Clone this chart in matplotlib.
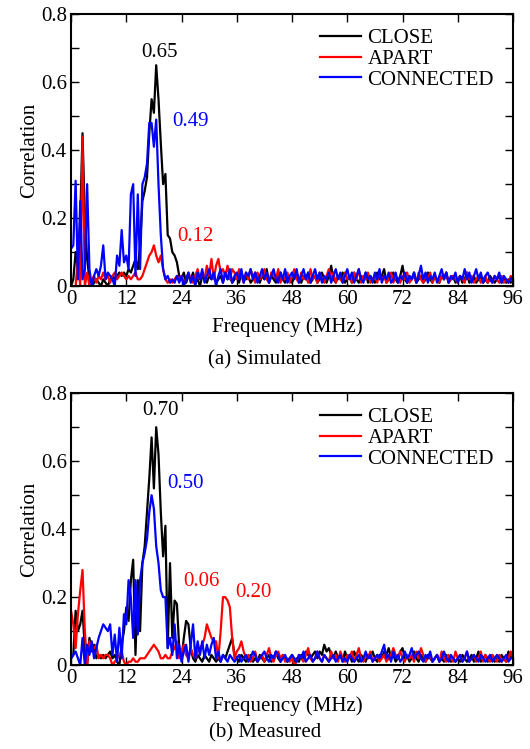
import numpy as np
import matplotlib
matplotlib.use("Agg")
import matplotlib.pyplot as plt
from matplotlib.ticker import MultipleLocator

plt.rcParams['font.family'] = ['Liberation Serif', 'DejaVu Serif']

# frequency grid (MHz), 0.5 MHz step
freq = np.arange(0, 96.5, 0.5)

# (a) simulated
sim_close = [
    0.0, 0.02, 0.10, 0.05, 0.20, 0.45, 0.20, 0.08, 0.02, 0.0, 0.01, 0.02, 0.01, 0.0, 0.02, 0.01, 0.0, 0.02, 0.03, 0.02, 0.03, 0.04, 0.03, 0.04,
    0.03, 0.05, 0.04, 0.06, 0.08, 0.05, 0.12, 0.25, 0.28, 0.32, 0.45, 0.55, 0.51, 0.65, 0.55, 0.42, 0.30, 0.33, 0.15, 0.14, 0.10, 0.09, 0.07, 0.03,
    0.02, 0.04, 0.01, 0.03, 0.02, 0.04, 0.01, 0.02, 0.0, 0.03, 0.02, 0.01, 0.03, 0.02, 0.04, 0.01, 0.02, 0.03, 0.01, 0.04, 0.02, 0.03, 0.01, 0.02,
    0.03, 0.01, 0.04, 0.02, 0.02, 0.03, 0.01, 0.02, 0.04, 0.02, 0.01, 0.03, 0.02, 0.05, 0.01, 0.03, 0.02, 0.01, 0.03, 0.04, 0.02, 0.01, 0.03, 0.02,
    0.01, 0.03, 0.04, 0.02, 0.01, 0.03, 0.02, 0.04, 0.01, 0.02, 0.03, 0.01, 0.02, 0.04, 0.02, 0.01, 0.03, 0.06, 0.02, 0.01, 0.03, 0.02, 0.04, 0.01,
    0.02, 0.03, 0.01, 0.04, 0.02, 0.01, 0.03, 0.02, 0.04, 0.01, 0.03, 0.02, 0.01, 0.04, 0.02, 0.03, 0.05, 0.01, 0.02, 0.03, 0.04, 0.02, 0.01, 0.03,
    0.06, 0.02, 0.01, 0.03, 0.02, 0.04, 0.01, 0.02, 0.03, 0.01, 0.02, 0.04, 0.02, 0.01, 0.03, 0.02, 0.01, 0.03, 0.02, 0.04, 0.01, 0.02, 0.03, 0.01,
    0.02, 0.03, 0.01, 0.02, 0.04, 0.01, 0.02, 0.03, 0.01, 0.02, 0.03, 0.01, 0.02, 0.01, 0.03, 0.02, 0.01, 0.02, 0.03, 0.01, 0.02, 0.01, 0.02, 0.01,
    0.02]
sim_apart = [
    0.0, 0.0, 0.0, 0.08, 0.0, 0.44, 0.0, 0.04, 0.0, 0.02, 0.03, 0.01, 0.03, 0.02, 0.04, 0.02, 0.03, 0.01, 0.03, 0.04, 0.02, 0.03, 0.04, 0.03,
    0.02, 0.03, 0.02, 0.03, 0.04, 0.02, 0.02, 0.03, 0.05, 0.07, 0.09, 0.10, 0.12, 0.09, 0.07, 0.09, 0.05, 0.02, 0.01, 0.02, 0.01, 0.02, 0.03, 0.02,
    0.03, 0.01, 0.02, 0.04, 0.02, 0.01, 0.03, 0.05, 0.02, 0.04, 0.02, 0.06, 0.03, 0.08, 0.02, 0.06, 0.08, 0.04, 0.05, 0.03, 0.06, 0.02, 0.05, 0.04,
    0.02, 0.05, 0.03, 0.01, 0.04, 0.02, 0.05, 0.03, 0.01, 0.04, 0.02, 0.03, 0.05, 0.02, 0.01, 0.04, 0.03, 0.02, 0.05, 0.01, 0.03, 0.02, 0.04, 0.01,
    0.03, 0.05, 0.02, 0.01, 0.04, 0.02, 0.03, 0.01, 0.05, 0.02, 0.03, 0.01, 0.04, 0.02, 0.01, 0.03, 0.05, 0.02, 0.04, 0.01, 0.03, 0.02, 0.01, 0.04,
    0.02, 0.03, 0.01, 0.04, 0.02, 0.05, 0.01, 0.03, 0.02, 0.04, 0.01, 0.02, 0.03, 0.01, 0.04, 0.02, 0.03, 0.01, 0.02, 0.04, 0.01, 0.03, 0.02, 0.01,
    0.03, 0.02, 0.04, 0.01, 0.02, 0.03, 0.01, 0.04, 0.02, 0.01, 0.03, 0.02, 0.04, 0.01, 0.03, 0.02, 0.01, 0.03, 0.02, 0.04, 0.01, 0.02, 0.03, 0.02,
    0.01, 0.03, 0.02, 0.01, 0.04, 0.02, 0.03, 0.01, 0.02, 0.03, 0.01, 0.02, 0.03, 0.01, 0.02, 0.01, 0.03, 0.02, 0.01, 0.03, 0.01, 0.02, 0.01, 0.03,
    0.01]
sim_connected = [
    0.11, 0.12, 0.31, 0.02, 0.25, 0.02, 0.05, 0.30, 0.05, 0.0, 0.03, 0.05, 0.03, 0.06, 0.12, 0.02, 0.04, 0.03, 0.02, 0.0, 0.09, 0.06, 0.165, 0.07,
    0.09, 0.05, 0.27, 0.30, 0.03, 0.27, 0.05, 0.30, 0.32, 0.36, 0.48, 0.48, 0.41, 0.49, 0.30, 0.15, 0.05, 0.02, 0.03, 0.01, 0.02, 0.01, 0.03, 0.01,
    0.03, 0.0, 0.02, 0.04, 0.01, 0.03, 0.0, 0.04, 0.02, 0.05, 0.01, 0.03, 0.05, 0.02, 0.04, 0.0, 0.03, 0.05, 0.01, 0.04, 0.02, 0.05, 0.01, 0.03,
    0.04, 0.02, 0.05, 0.01, 0.04, 0.03, 0.05, 0.02, 0.04, 0.01, 0.03, 0.05, 0.02, 0.04, 0.01, 0.03, 0.05, 0.02, 0.01, 0.04, 0.02, 0.05, 0.01, 0.03,
    0.04, 0.02, 0.05, 0.01, 0.03, 0.05, 0.02, 0.04, 0.01, 0.03, 0.05, 0.02, 0.04, 0.01, 0.03, 0.02, 0.04, 0.01, 0.03, 0.05, 0.02, 0.04, 0.01, 0.03,
    0.05, 0.02, 0.04, 0.01, 0.03, 0.05, 0.02, 0.01, 0.04, 0.02, 0.03, 0.01, 0.04, 0.02, 0.05, 0.01, 0.03, 0.02, 0.04, 0.01, 0.02, 0.04, 0.01, 0.03,
    0.02, 0.04, 0.01, 0.03, 0.02, 0.04, 0.01, 0.03, 0.06, 0.02, 0.04, 0.01, 0.03, 0.02, 0.04, 0.01, 0.03, 0.05, 0.02, 0.04, 0.01, 0.03, 0.02, 0.04,
    0.01, 0.03, 0.02, 0.05, 0.02, 0.04, 0.01, 0.03, 0.05, 0.02, 0.04, 0.01, 0.03, 0.04, 0.02, 0.01, 0.03, 0.02, 0.04, 0.01, 0.03, 0.02, 0.01, 0.02,
    0.03]

# (b) measured
meas_close = [
    0.02, 0.03, 0.16, 0.10, 0.12, 0.16, 0.05, 0.0, 0.08, 0.04, 0.06, 0.02, 0.03, 0.02, 0.03, 0.02, 0.03, 0.04, 0.02, 0.03, 0.01, 0.0, 0.06, 0.10,
    0.17, 0.13, 0.25, 0.31, 0.03, 0.25, 0.10, 0.30, 0.35, 0.45, 0.55, 0.67, 0.52, 0.70, 0.62, 0.45, 0.32, 0.41, 0.05, 0.30, 0.08, 0.19, 0.18, 0.05,
    0.02, 0.08, 0.13, 0.12, 0.05, 0.02, 0.01, 0.03, 0.02, 0.01, 0.03, 0.02, 0.01, 0.03, 0.02, 0.01, 0.02, 0.01, 0.03, 0.02, 0.04, 0.06, 0.08, 0.03,
    0.02, 0.01, 0.03, 0.02, 0.01, 0.02, 0.03, 0.01, 0.02, 0.01, 0.03, 0.02, 0.01, 0.02, 0.03, 0.01, 0.02, 0.04, 0.02, 0.01, 0.03, 0.02, 0.01, 0.02,
    0.03, 0.01, 0.02, 0.01, 0.03, 0.02, 0.04, 0.03, 0.02, 0.03, 0.04, 0.02, 0.04, 0.03, 0.06, 0.04, 0.05, 0.03, 0.02, 0.04, 0.02, 0.03, 0.01, 0.04,
    0.02, 0.03, 0.01, 0.04, 0.02, 0.01, 0.03, 0.02, 0.01, 0.03, 0.02, 0.04, 0.02, 0.01, 0.03, 0.02, 0.04, 0.03, 0.05, 0.02, 0.03, 0.01, 0.02, 0.04,
    0.05, 0.02, 0.03, 0.01, 0.02, 0.04, 0.02, 0.01, 0.03, 0.02, 0.01, 0.03, 0.02, 0.01, 0.02, 0.03, 0.01, 0.02, 0.01, 0.03, 0.02, 0.01, 0.02, 0.01,
    0.02, 0.01, 0.03, 0.02, 0.01, 0.02, 0.03, 0.01, 0.02, 0.04, 0.01, 0.02, 0.03, 0.01, 0.02, 0.03, 0.01, 0.02, 0.01, 0.03, 0.02, 0.01, 0.04, 0.02,
    0.03]
meas_apart = [
    0.16, 0.12, 0.05, 0.15, 0.22, 0.28, 0.10, 0.0, 0.07, 0.05, 0.05, 0.06, 0.02, 0.03, 0.02, 0.03, 0.03, 0.02, 0.0, 0.01, 0.02, 0.03, 0.04, 0.01,
    0.0, 0.01, 0.01, 0.02, 0.01, 0.01, 0.02, 0.02, 0.02, 0.03, 0.04, 0.05, 0.06, 0.05, 0.04, 0.02, 0.02, 0.03, 0.02, 0.02, 0.04, 0.05, 0.07, 0.02,
    0.04, 0.06, 0.03, 0.02, 0.05, 0.03, 0.02, 0.04, 0.05, 0.06, 0.08, 0.12, 0.10, 0.08, 0.07, 0.07, 0.02, 0.10, 0.20, 0.20, 0.19, 0.17, 0.08, 0.02,
    0.04, 0.05, 0.07, 0.04, 0.02, 0.03, 0.01, 0.02, 0.04, 0.01, 0.02, 0.03, 0.01, 0.03, 0.05, 0.02, 0.01, 0.03, 0.04, 0.02, 0.03, 0.01, 0.02, 0.01,
    0.02, 0.0, 0.01, 0.03, 0.02, 0.01, 0.03, 0.05, 0.02, 0.01, 0.02, 0.04, 0.02, 0.01, 0.03, 0.02, 0.01, 0.04, 0.02, 0.03, 0.01, 0.04, 0.02, 0.01,
    0.03, 0.02, 0.04, 0.01, 0.03, 0.05, 0.02, 0.01, 0.03, 0.02, 0.04, 0.01, 0.02, 0.03, 0.01, 0.02, 0.03, 0.01, 0.02, 0.03, 0.05, 0.03, 0.02, 0.04,
    0.02, 0.01, 0.03, 0.02, 0.03, 0.01, 0.04, 0.02, 0.05, 0.03, 0.01, 0.02, 0.03, 0.01, 0.02, 0.03, 0.01, 0.04, 0.02, 0.01, 0.03, 0.02, 0.01, 0.04,
    0.02, 0.03, 0.01, 0.02, 0.04, 0.01, 0.02, 0.03, 0.01, 0.02, 0.04, 0.01, 0.03, 0.02, 0.01, 0.03, 0.02, 0.01, 0.03, 0.01, 0.02, 0.01, 0.02, 0.04,
    0.02]
meas_connected = [
    0.02, 0.03, 0.04, 0.02, 0.0, 0.08, 0.0, 0.06, 0.03, 0.07, 0.02, 0.05, 0.08, 0.10, 0.12, 0.11, 0.10, 0.12, 0.03, 0.09, 0.01, 0.11, 0.02, 0.15,
    0.12, 0.25, 0.20, 0.08, 0.25, 0.09, 0.25, 0.30, 0.33, 0.37, 0.45, 0.50, 0.46, 0.35, 0.30, 0.22, 0.20, 0.20, 0.05, 0.08, 0.03, 0.12, 0.02, 0.06,
    0.01, 0.04, 0.06, 0.01, 0.06, 0.12, 0.02, 0.07, 0.03, 0.07, 0.02, 0.06, 0.03, 0.06, 0.08, 0.02, 0.04, 0.01, 0.03, 0.02, 0.01, 0.03, 0.02, 0.01,
    0.02, 0.03, 0.01, 0.02, 0.03, 0.01, 0.02, 0.04, 0.03, 0.01, 0.02, 0.03, 0.04, 0.02, 0.01, 0.03, 0.02, 0.04, 0.03, 0.01, 0.02, 0.03, 0.01, 0.02,
    0.03, 0.02, 0.01, 0.03, 0.02, 0.04, 0.01, 0.02, 0.03, 0.01, 0.02, 0.04, 0.02, 0.01, 0.03, 0.02, 0.01, 0.02, 0.03, 0.01, 0.02, 0.03, 0.01, 0.02,
    0.01, 0.03, 0.02, 0.01, 0.02, 0.03, 0.01, 0.02, 0.04, 0.02, 0.03, 0.01, 0.02, 0.03, 0.02, 0.04, 0.06, 0.02, 0.03, 0.01, 0.04, 0.02, 0.03, 0.01,
    0.02, 0.04, 0.02, 0.03, 0.05, 0.02, 0.03, 0.04, 0.02, 0.01, 0.03, 0.02, 0.04, 0.01, 0.02, 0.03, 0.01, 0.02, 0.04, 0.02, 0.01, 0.03, 0.02, 0.01,
    0.02, 0.03, 0.01, 0.02, 0.04, 0.01, 0.02, 0.03, 0.02, 0.01, 0.03, 0.02, 0.01, 0.02, 0.03, 0.01, 0.02, 0.03, 0.02, 0.01, 0.02, 0.03, 0.01, 0.02,
    0.02]

labels = ['CLOSE', 'APART', 'CONNECTED']
colors = ['black', 'red', 'blue']
yticks = [0, 0.2, 0.4, 0.6, 0.8]
ytick_labels = ['0', '0.2', '0.4', '0.6', '0.8']

# peak annotations: (text, x, y, color)
sim_notes = [('0.65', 19.3, 0.688, 'black'), ('0.49', 26.0, 0.483, 'blue'), ('0.12', 27.1, 0.147, 'red')]
meas_notes = [('0.70', 19.5, 0.748, 'black'), ('0.50', 24.8, 0.534, 'blue'),
              ('0.06', 28.4, 0.245, 'red'), ('0.20', 39.6, 0.214, 'red')]

FS = 15

fig = plt.figure(figsize=(5.3, 7.49), dpi=100)
ax1 = fig.add_axes([0.134, 0.618, 0.834, 0.363])
ax2 = fig.add_axes([0.134, 0.112, 0.834, 0.363])

panels = [
    (ax1, [sim_close, sim_apart, sim_connected], sim_notes, '(a) Simulated', 360),
    (ax2, [meas_close, meas_apart, meas_connected], meas_notes, '(b) Measured', 733),
]

for ax, series, notes, caption, ycap in panels:
    for vals, lab, col in zip(series, labels, colors):
        ax.plot(freq, vals, color=col, lw=1.6, label=lab)
    ax.set_xlim(0, 96)
    ax.set_ylim(0, 0.8)
    ax.xaxis.set_major_locator(MultipleLocator(12))
    ax.set_yticks(yticks)
    ax.set_yticklabels(ytick_labels)
    ax.yaxis.set_minor_locator(MultipleLocator(0.1))
    ax.tick_params(which='both', direction='in', top=True, right=True,
                   length=6, width=1.0, labelsize=FS, pad=3)
    for sp in ax.spines.values():
        sp.set_linewidth(1.5)
    ax.set_xlabel('Frequency (MHz)', fontsize=FS)
    ax.xaxis.set_label_coords(0.49, -0.115)
    ax.set_ylabel('Correlation', fontsize=FS)
    ax.yaxis.set_label_coords(-0.072, 0.5)
    ax.legend(loc='upper right', frameon=False, fontsize=FS, handlelength=2.0,
              labelspacing=0.05, handletextpad=0.3, borderaxespad=0.3,
              bbox_to_anchor=(0.99, 1.0))
    for txt, x, y, col in notes:
        ax.text(x, y, txt, color=col, fontsize=FS, ha='center', va='center')
    fig.text(0.5, 1 - ycap / 749, caption, fontsize=FS, ha='center', va='center')

fig.savefig('out.png', dpi=100)
